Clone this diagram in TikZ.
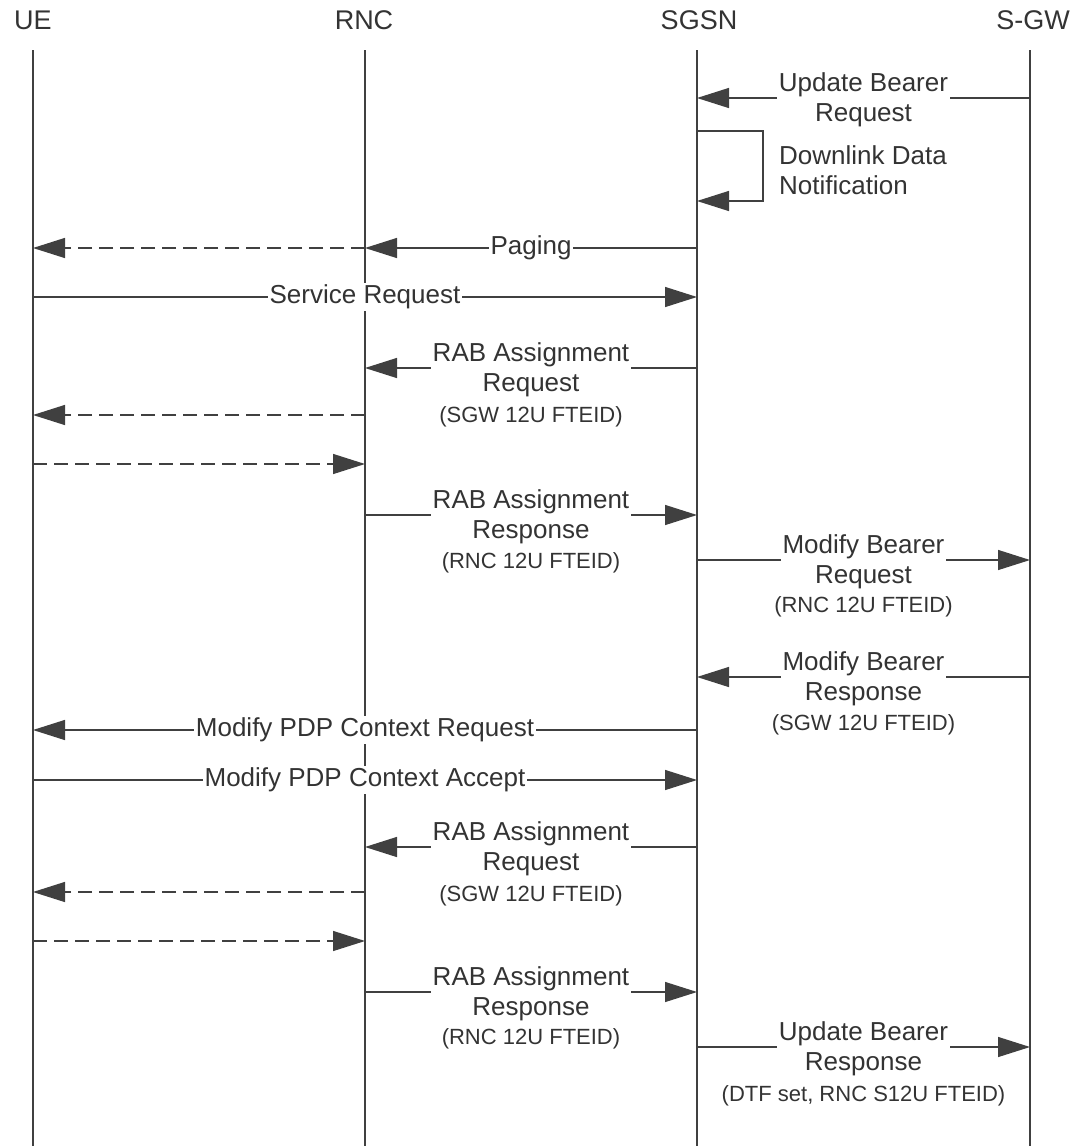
\documentclass[tikz,border=0pt]{standalone}
\usepackage{fontspec}
\setmainfont{Liberation Sans}
\usetikzlibrary{arrows.meta,positioning,calc}

\begin{document}
\begin{tikzpicture}[x=1pt, y=-1pt, >={Triangle[length=32pt,width=20pt]},
    every node/.style={text=black!80},
    head/.style={font=\fontsize{27}{30}\selectfont},
    life/.style={draw=black!75, line width=1.3pt},
    msg/.style={draw=black!75, line width=1.3pt, ->},
    reply/.style={msg, dash pattern=on 14pt off 7pt},
    lbl/.style={fill=white, inner sep=2pt, align=center, font=\fontsize{26}{30}\selectfont},
    note/.style={font=\fontsize{22}{24}\selectfont}]
    \useasboundingbox (0,0) rectangle (1073,1146);

    % entities
    \node[head] (ue) at (33,20) {UE};
    \node[head] (rnc) at (364,20) {RNC};
    \node[head] (sgsn) at (699,20) {SGSN};
    \node[head] (sgw) at (1033,20) {S-GW};

    % message rows
    \coordinate (top) at (0,50);
    \coordinate (bot) at (0,1146);
    \foreach \n/\y in {r1/98, r2/131, r2m/170, r2b/201, r3/248, r4/297, r5/368, r6/415, r7/464,
                       r8/515, r9/560, r10/677, r11/730, r12/780, r13/847, r14/892, r15/941,
                       r16/992, r17/1047}
        \coordinate (\n) at (0,\y);

    % lifelines
    \coordinate (xue) at (33,0);
    \coordinate (xrnc) at (365,0);
    \coordinate (xsgsn) at (697,0);
    \coordinate (xsgw) at (1030,0);
    \foreach \p in {xue,xrnc,xsgsn,xsgw}
        \draw[life] (\p |- top) -- (\p |- bot);

    \draw[msg] (xsgw |- r1) -- node[lbl, yshift=-2pt] {Update Bearer\\Request} (xsgsn |- r1);
    \draw[msg] (xsgsn |- r2) -- ++(66,0) |- (xsgsn |- r2b);
    \node[lbl, fill=none, align=left, anchor=west] (dl) at ([xshift=80pt]xsgsn |- r2m) {Downlink Data\\Notification};

    \draw[reply] (xrnc |- r3) -- (xue |- r3);
    \draw[msg] (xsgsn |- r3) -- node[lbl] {Paging} (xrnc |- r3);
    \draw[msg] (xue |- r4) -- node[lbl] {Service Request} (xsgsn |- r4);

    \draw[msg] (xsgsn |- r5) -- node[lbl, yshift=-2pt] (m5) {RAB Assignment\\Request} (xrnc |- r5);
    \node[note] at ([yshift=-47pt]m5.center) {(SGW 12U FTEID)};
    \draw[reply] (xrnc |- r6) -- (xue |- r6);
    \draw[reply] (xue |- r7) -- (xrnc |- r7);
    \draw[msg] (xrnc |- r8) -- node[lbl, yshift=-2pt] (m8) {RAB Assignment\\Response} (xsgsn |- r8);
    \node[note] at ([yshift=-46pt]m8.center) {(RNC 12U FTEID)};

    \draw[msg] (xsgsn |- r9) -- node[lbl, yshift=-2pt] (m9) {Modify Bearer\\Request} (xsgw |- r9);
    \node[note] at ([yshift=-45pt]m9.center) {(RNC 12U FTEID)};
    \draw[msg] (xsgw |- r10) -- node[lbl, yshift=-2pt] (m10) {Modify Bearer\\Response} (xsgsn |- r10);
    \node[note] at ([yshift=-46pt]m10.center) {(SGW 12U FTEID)};

    \draw[msg] (xsgsn |- r11) -- node[lbl] {Modify PDP Context Request} (xue |- r11);
    \draw[msg] (xue |- r12) -- node[lbl] {Modify PDP Context Accept} (xsgsn |- r12);

    \draw[msg] (xsgsn |- r13) -- node[lbl, yshift=-2pt] (m13) {RAB Assignment\\Request} (xrnc |- r13);
    \node[note] at ([yshift=-47pt]m13.center) {(SGW 12U FTEID)};
    \draw[reply] (xrnc |- r14) -- (xue |- r14);
    \draw[reply] (xue |- r15) -- (xrnc |- r15);
    \draw[msg] (xrnc |- r16) -- node[lbl, yshift=-2pt] (m16) {RAB Assignment\\Response} (xsgsn |- r16);
    \node[note] at ([yshift=-45pt]m16.center) {(RNC 12U FTEID)};

    \draw[msg] (xsgsn |- r17) -- node[lbl, yshift=-2pt] (m17) {Update Bearer\\Response} (xsgw |- r17);
    \node[note] at ([yshift=-47pt]m17.center) {(DTF set, RNC S12U FTEID)};
\end{tikzpicture}
\end{document}
